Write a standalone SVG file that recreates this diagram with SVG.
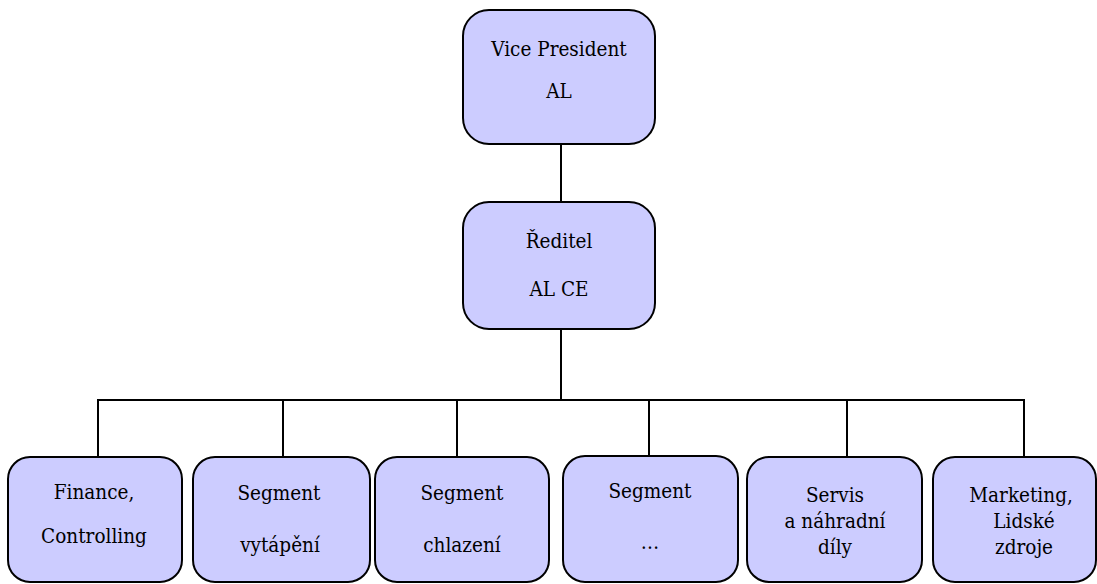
<svg xmlns="http://www.w3.org/2000/svg" width="1097" height="584" viewBox="0 0 1097 584">
  <style>
    .box { fill: #CCCCFF; stroke: #000; stroke-width: 2; }
    .wire { fill: none; stroke: #000; stroke-width: 2; }
    .lbl { font-family: "DejaVu Serif Condensed", "DejaVu Serif", serif; font-stretch: condensed; font-size: 20.5px; text-anchor: middle; fill: #000; }
  </style>
  <rect width="1097" height="584" fill="#fff"/>

  <!-- connectors -->
  <g id="connectors">
    <line class="wire" x1="561" y1="144" x2="561" y2="202"/>
    <line class="wire" x1="561" y1="329" x2="561" y2="400"/>
    <line class="wire" x1="97" y1="400" x2="1025" y2="400"/>
    <line class="wire" x1="98" y1="399" x2="98" y2="457"/>
    <line class="wire" x1="283" y1="399" x2="283" y2="457"/>
    <line class="wire" x1="457" y1="399" x2="457" y2="457"/>
    <line class="wire" x1="649" y1="399" x2="649" y2="456"/>
    <line class="wire" x1="847" y1="399" x2="847" y2="457"/>
    <line class="wire" x1="1024" y1="399" x2="1024" y2="457"/>
  </g>

  <g id="vice-president">
    <rect class="box" x="463" y="10" width="192" height="134" rx="26"/>
    <text class="lbl" x="559" y="56">Vice President</text>
    <text class="lbl" x="559" y="98">AL</text>
  </g>

  <g id="reditel">
    <rect class="box" x="463" y="202" width="192" height="127" rx="26"/>
    <text class="lbl" x="559" y="248">Ředitel</text>
    <text class="lbl" x="559" y="296">AL CE</text>
  </g>

  <g id="finance">
    <rect class="box" x="8" y="457" width="174" height="125" rx="22"/>
    <text class="lbl" x="94" y="499">Finance,</text>
    <text class="lbl" x="94" y="543">Controlling</text>
  </g>

  <g id="segment-vytapeni">
    <rect class="box" x="193" y="457" width="177" height="125" rx="22"/>
    <text class="lbl" x="279" y="500">Segment</text>
    <text class="lbl" x="280" y="552">vytápění</text>
  </g>

  <g id="segment-chlazeni">
    <rect class="box" x="375" y="457" width="174" height="125" rx="22"/>
    <text class="lbl" x="462" y="500">Segment</text>
    <text class="lbl" x="462" y="552">chlazení</text>
  </g>

  <g id="segment-other">
    <rect class="box" x="563" y="456" width="175" height="126" rx="22"/>
    <text class="lbl" x="650" y="498">Segment</text>
    <text class="lbl" x="650" y="549">…</text>
  </g>

  <g id="servis">
    <rect class="box" x="747" y="457" width="175" height="125" rx="22"/>
    <text class="lbl" x="835" y="502">Servis</text>
    <text class="lbl" x="835" y="528">a náhradní</text>
    <text class="lbl" x="835" y="554">díly</text>
  </g>

  <g id="marketing">
    <rect class="box" x="933" y="457" width="163" height="125" rx="22"/>
    <text class="lbl" x="1021" y="502">Marketing,</text>
    <text class="lbl" x="1024" y="528">Lidské</text>
    <text class="lbl" x="1024" y="554">zdroje</text>
  </g>
</svg>
